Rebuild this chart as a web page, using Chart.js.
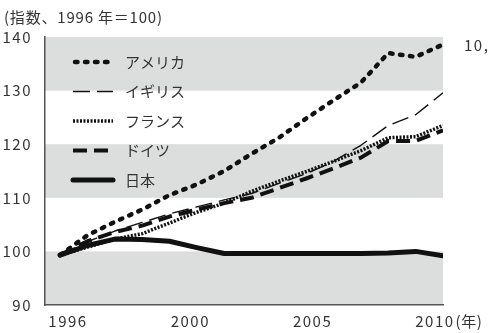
<!DOCTYPE html>
<html>
<head>
<meta charset="utf-8">
<script src="https://cdn.jsdelivr.net/npm/chart.js@4.4.1/dist/chart.umd.min.js"></script>
<style>
  html, body { margin: 0; padding: 0; background: #fff; }
  #wrap { width: 488px; height: 333px; position: relative; }
</style>
</head>
<body>
<div id="wrap"><canvas id="c" width="488" height="333"></canvas></div>
<script>
// Real GDP index by country (1996 = 100)
const years   = [1996, 1997, 1998, 1999, 2000, 2001, 2002, 2003, 2004, 2005, 2006, 2007, 2008, 2009, 2010];
const america = [99.3, 103.0, 105.5, 107.8, 110.5, 112.5, 115.0, 118.2, 121.2, 124.8, 128.2, 131.5, 137.0, 136.3, 138.6];
const uk      = [99.3, 101.8, 103.8, 105.4, 107.0, 108.3, 109.6, 110.8, 112.7, 114.5, 116.8, 119.8, 123.5, 125.5, 129.6];
const france  = [99.3, 100.8, 102.3, 103.3, 105.3, 107.3, 109.0, 111.2, 113.1, 114.9, 116.8, 118.8, 121.2, 121.4, 123.5];
const germany = [99.3, 101.9, 103.6, 104.8, 106.5, 107.8, 109.0, 110.0, 111.8, 113.6, 115.5, 117.5, 120.6, 120.6, 122.6];
const japan   = [99.3, 101.1, 102.3, 102.2, 101.9, 100.7, 99.6, 99.6, 99.6, 99.6, 99.6, 99.6, 99.7, 100.0, 99.2];

const seriesNames = ['アメリカ', 'イギリス', 'フランス', 'ドイツ', '日本'];
const yearLabels  = ['1996', '2000', '2005', '2010'];
const yearUnit    = '(年)';
const indexTitle  = '(指数、1996 年＝100)';
const sideNote    = '10,';
const shadedBands = [[90, 100], [110, 120], [130, 140]];

const FONT = "'Noto Sans CJK JP', 'Noto Sans', sans-serif";
const INK = '#111';
const TEXT = '#333';
const AXIS = '#555';

Chart.defaults.font.family = FONT;
Chart.defaults.font.size = 15;
Chart.defaults.color = TEXT;

const toPoints = arr => arr.map((v, i) => ({ x: years[i], y: v }));

const styles = [
  { data: america, borderWidth: 4.5, borderDash: [2.5, 7.5], borderCapStyle: 'round' },
  { data: uk,      borderWidth: 1.4, borderDash: [17, 7],    borderCapStyle: 'butt' },
  { data: france,  borderWidth: 3.5, borderDash: [2, 1.5],   borderCapStyle: 'butt' },
  { data: germany, borderWidth: 4,   borderDash: [14, 7],    borderCapStyle: 'butt' },
  { data: japan,   borderWidth: 5,   borderDash: [],         borderCapStyle: 'round' }
];

const datasets = styles.map((s, i) => ({
  label: seriesNames[i],
  data: toPoints(s.data),
  xAxisID: 'x',
  yAxisID: 'y',
  borderColor: INK,
  backgroundColor: INK,
  borderWidth: s.borderWidth,
  borderDash: s.borderDash,
  borderCapStyle: s.borderCapStyle,
  borderJoinStyle: 'round',
  pointRadius: 0,
  tension: 0,
  fill: false
})).reverse(); // Japan drawn first, America on top

// Grey horizontal bands behind the plot; wider digit spacing for tick numbers
const bandsPlugin = {
  id: 'bands',
  beforeDraw(chart) {
    const { ctx, chartArea: a, scales: { y } } = chart;
    ctx.letterSpacing = '1.5px';
    ctx.save();
    ctx.fillStyle = '#dcdddd';
    shadedBands.forEach(([lo, hi]) => {
      const top = y.getPixelForValue(hi);
      const bot = y.getPixelForValue(lo);
      ctx.fillRect(a.left, top, a.right - a.left, bot - top);
    });
    ctx.restore();
  }
};

// Legend inside the plot, top-left, one row per series
const legendPlugin = {
  id: 'innerLegend',
  afterDatasetsDraw(chart) {
    const { ctx, chartArea: a } = chart;
    const order = chart.data.datasets.slice().reverse();
    ctx.save();
    ctx.letterSpacing = '0px';
    order.forEach((ds, i) => {
      const yy = a.top + 25 + i * 29.5;
      ctx.beginPath();
      ctx.strokeStyle = ds.borderColor;
      ctx.lineWidth = ds.borderWidth;
      ctx.lineCap = ds.borderCapStyle;
      ctx.setLineDash(ds.borderDash);
      const x0 = a.left + 28 + (ds.borderCapStyle === 'round' && ds.borderDash.length ? 2 : 0);
      ctx.moveTo(x0, yy);
      ctx.lineTo(a.left + 68, yy);
      ctx.stroke();
      ctx.setLineDash([]);
      ctx.fillStyle = TEXT;
      ctx.font = '15px ' + FONT;
      ctx.textAlign = 'left';
      ctx.textBaseline = 'middle';
      ctx.fillText(ds.label, a.left + 80, yy);
    });
    ctx.restore();
  }
};

// Index title, year unit and the side note
const textPlugin = {
  id: 'texts',
  afterDraw(chart) {
    const { ctx, chartArea: a, scales } = chart;
    ctx.save();
    ctx.fillStyle = TEXT;
    ctx.font = '15px ' + FONT;
    ctx.textBaseline = 'middle';
    ctx.textAlign = 'left';
    ctx.letterSpacing = '0.8px';
    ctx.fillText(indexTitle, 4, 17);
    ctx.letterSpacing = '1.5px';
    ctx.fillText(sideNote, a.right + 21, a.top + 8);
    const xl = scales.xl;
    const last = xl.ticks[xl.ticks.length - 1];
    const px = xl.getPixelForValue(last.value);
    const w = ctx.measureText(yearLabels[yearLabels.length - 1]).width;
    ctx.letterSpacing = '0.5px';
    ctx.fillText(yearUnit, px + w / 2 + 1, a.bottom + 16);
    ctx.restore();
  }
};

new Chart(document.getElementById('c'), {
  type: 'line',
  data: { datasets },
  options: {
    responsive: false,
    animation: false,
    devicePixelRatio: 1,
    layout: { padding: { top: 37, right: 45, left: 0, bottom: 0 } },
    plugins: { legend: { display: false }, tooltip: { enabled: false }, title: { display: false } },
    scales: {
      x: {
        type: 'linear',
        display: false,
        min: 1995.45,
        max: 2010
      },
      xl: {
        type: 'linear',
        position: 'bottom',
        min: -0.188,
        max: 3.066,
        grid: { display: false, drawTicks: false },
        border: { display: true, color: AXIS, width: 1.5 },
        afterBuildTicks(scale) {
          scale.ticks = yearLabels.map((_, i) => ({ value: i }));
        },
        ticks: {
          color: TEXT,
          padding: 7,
          maxRotation: 0,
          autoSkip: false,
          callback: v => yearLabels[v]
        },
        afterFit(scale) { scale.height = 28; }
      },
      y: {
        type: 'linear',
        min: 90,
        max: 140,
        grid: { display: false },
        border: { display: true, color: AXIS, width: 1.5 },
        ticks: { stepSize: 10, color: TEXT, padding: 5 },
        afterFit(scale) { scale.width = 45; }
      }
    }
  },
  plugins: [bandsPlugin, legendPlugin, textPlugin]
});
</script>
</body>
</html>
